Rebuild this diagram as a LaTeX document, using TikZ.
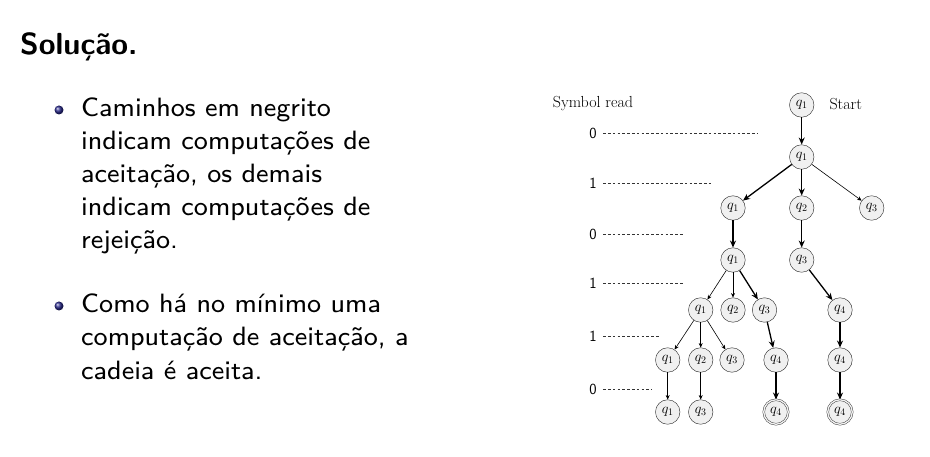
\documentclass[tikz,border=0pt]{standalone}
\usepackage{fontspec}
\newfontfamily\slidefont{lmsans8-regular.otf}
\usetikzlibrary{arrows.meta,shadings}
\definecolor{beamerblue}{rgb}{0.17,0.17,0.55}
\tikzset{
  st/.style={circle,draw=black!85,fill=black!6,minimum size=24.5pt,inner sep=0pt,font=\fontsize{14.5}{14.5}\selectfont},
  acc/.style={st,double=black!6,double distance=1.4pt},
  bold/.style={line width=1.3pt,-{Stealth[length=7pt,width=6pt]}},
  thin/.style={line width=0.6pt,-{Stealth[length=4.5pt,width=4pt]}},
  lvl/.style={dash pattern=on 2.6pt off 2.2pt,line width=0.55pt,draw=black!80},
  dig/.style={font=\sffamily\fontsize{15.5}{15.5}\selectfont},
  txt/.style={anchor=base west,inner sep=0pt,font=\slidefont\fontsize{26.5}{33}\selectfont},
  ball/.style={circle,inner sep=0pt,minimum size=9pt,shading=ball,ball color=beamerblue}
}
\begin{document}
\begin{tikzpicture}[x=1pt,y=-1pt]
\useasboundingbox[fill=white] (0,0) rectangle (930,457);
% title
\node[anchor=base west,inner sep=0pt,font=\sffamily\bfseries\fontsize{30.5}{36}\selectfont] (title) at (20,55) {Solução.};
% bullets
\node[ball] (b1) at (59,110) {};
\node[txt] (l1) at (81,117) {Caminhos em negrito};
\node[txt] (l2) at (81,150) {indicam computações de};
\node[txt] (l3) at (81,183) {aceitação, os demais};
\node[txt] (l4) at (81,216) {indicam computações de};
\node[txt] (l5) at (81,249) {rejeição.};
\node[ball] (b2) at (59,306) {};
\node[txt] (m1) at (81,313) {Como há no mínimo uma};
\node[txt] (m2) at (81,346) {computação de aceitação, a};
\node[txt] (m3) at (81,379) {cadeia é aceita.};
% diagram labels
\node[font=\fontsize{16}{16}\selectfont] (sr) at (593,104) {Symbol read};
\node[font=\fontsize{16}{16}\selectfont,anchor=west] (start) at (826,104) {Start};
% level markers
\node[dig] (d0) at (593,133) {0};
\node[dig] (d1) at (593,183) {1};
\node[dig] (d2) at (593,234) {0};
\node[dig] (d3) at (593,283) {1};
\node[dig] (d4) at (593,336) {1};
\node[dig] (d5) at (593,389) {0};
\coordinate (e0) at (757,133);
\coordinate (e1) at (713,183);
\coordinate (e2) at (683,234);
\coordinate (e3) at (684,283);
\coordinate (e4) at (659,336);
\coordinate (e5) at (652,389);
\foreach \i in {0,...,5} \draw[lvl] (d\i.east) ++(3,0) -- (e\i);
% states
\node[st] (a) at (801.7,105) {$q_1$};
\node[st] (b) at (801.7,157) {$q_1$};
\node[st] (c1) at (733,208) {$q_1$};
\node[st] (c2) at (801.7,208) {$q_2$};
\node[st] (c3) at (871.7,208) {$q_3$};
\node[st] (d1q) at (733,260) {$q_1$};
\node[st] (d3q) at (801.7,260) {$q_3$};
\node[st] (f1) at (700.7,310) {$q_1$};
\node[st] (f2) at (733,310) {$q_2$};
\node[st] (f3) at (764.5,310) {$q_3$};
\node[st] (f4) at (840,310) {$q_4$};
\node[st] (g1) at (667.7,360) {$q_1$};
\node[st] (g2) at (700.7,360) {$q_2$};
\node[st] (g3) at (732,360) {$q_3$};
\node[st] (g4) at (776,360) {$q_4$};
\node[st] (g5) at (840,360) {$q_4$};
\node[st] (h1) at (667.7,412) {$q_1$};
\node[st] (h2) at (700.7,412) {$q_3$};
\node[acc] (h3) at (776,412) {$q_4$};
\node[acc] (h4) at (840,412) {$q_4$};
% edges
\draw[bold] (a) -- (b);
\draw[bold] (b) -- (c1);
\draw[bold] (b) -- (c2);
\draw[thin] (b) -- (c3);
\draw[bold] (c1) -- (d1q);
\draw[bold] (c2) -- (d3q);
\draw[thin] (d1q) -- (f1);
\draw[thin] (d1q) -- (f2);
\draw[bold] (d1q) -- (f3);
\draw[bold] (d3q) -- (f4);
\draw[thin] (f1) -- (g1);
\draw[thin] (f1) -- (g2);
\draw[thin] (f1) -- (g3);
\draw[bold] (f3) -- (g4);
\draw[bold] (f4) -- (g5);
\draw[thin] (g1) -- (h1);
\draw[thin] (g2) -- (h2);
\draw[bold] (g4) -- (h3);
\draw[bold] (g5) -- (h4);
\end{tikzpicture}
\end{document}
